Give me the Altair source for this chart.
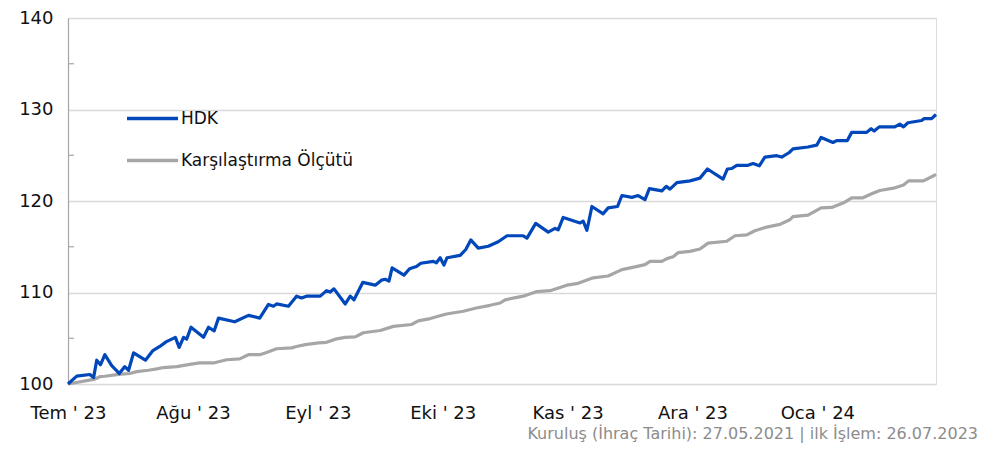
import json
import altair as alt
import pandas as pd

# ---- data (x = business-day index from 26.07.2023) ----
series_names = ["HDK", "Karşılaştırma Ölçütü"]

hdk_day = [0, 1.4, 3.5, 4.1, 4.6, 5.2, 5.9, 7.0, 8.2, 9.1, 9.7, 10.5, 12.4, 13.6, 14.7,
           15.7, 17.2, 17.8, 18.5, 19.0, 19.7, 21.7, 22.5, 23.4, 24.1, 26.7, 28.9, 30.7,
           32.1, 32.9, 33.4, 35.3, 36.6, 37.4, 38.2, 40.4, 41.4, 42.0, 42.6, 44.4, 45.2,
           45.8, 47.2, 49.2, 50.2, 50.8, 51.4, 51.9, 53.8, 54.7, 55.8, 56.5, 58.5, 59.0,
           59.6, 60.2, 60.7, 62.8, 63.7, 64.5, 65.7, 67.3, 68.9, 70.3, 72.9, 73.5, 74.9,
           76.9, 78.0, 78.5, 79.3, 82.0, 82.5, 83.1, 83.9, 85.7, 86.5, 88.0, 88.7, 90.3,
           91.3, 92.4, 93.1, 95.1, 95.8, 96.4, 97.5, 99.6, 101.2, 102.4, 104.9, 105.6,
           106.3, 107.1, 108.9, 109.7, 110.7, 111.6, 113.5, 114.3, 115.5, 116.1, 118.5,
           119.9, 120.6, 122.5, 123.1, 124.8, 125.5, 127.9, 128.6, 129.1, 129.9, 132.4,
           133.2, 133.8, 134.5, 136.7, 137.1, 138.3, 139]
hdk_val = [100.0, 100.86, 101.04, 100.7, 102.6, 102.1, 103.2, 102.0, 101.15, 101.9, 101.5,
           103.4, 102.6, 103.65, 104.1, 104.6, 105.1, 104.0, 105.1, 104.9, 106.2, 105.1,
           106.2, 105.8, 107.2, 106.8, 107.5, 107.2, 108.7, 108.5, 108.75, 108.5, 109.6,
           109.4, 109.6, 109.6, 110.2, 110.05, 110.4, 108.75, 109.6, 109.2, 111.1, 110.8,
           111.35, 111.45, 111.25, 112.7, 111.9, 112.6, 112.85, 113.2, 113.4, 113.25, 113.8,
           113.0, 113.8, 114.05, 114.7, 115.75, 114.85, 115.05, 115.55, 116.2, 116.2, 115.95,
           117.55, 116.6, 117.0, 116.85, 118.2, 117.6, 117.8, 116.8, 119.4, 118.6, 119.25,
           119.4, 120.6, 120.4, 120.6, 120.15, 121.35, 121.1, 121.6, 121.3, 122.0, 122.2,
           122.5, 123.5, 122.4, 123.5, 123.55, 123.9, 123.9, 124.1, 123.85, 124.8, 124.95,
           124.8, 125.3, 125.7, 125.9, 126.1, 126.95, 126.4, 126.6, 126.6, 127.5, 127.5,
           127.9, 127.65, 128.1, 128.1, 128.4, 128.1, 128.55, 128.8, 129.0, 129.0, 129.45]

bm_day = [0, 4.1, 5.1, 5.9, 8.1, 9.9, 11.0, 12.9, 14.2, 15.3, 17.4, 19.5, 21.1, 23.3, 25.4,
          27.5, 28.9, 30.7, 31.8, 33.4, 35.8, 36.6, 38.0, 40.1, 41.4, 42.8, 44.4, 46.0, 47.3,
          50.0, 52.1, 55.0, 56.1, 58.0, 60.6, 63.3, 65.4, 67.6, 69.2, 70.0, 72.9, 75.1, 77.2,
          79.9, 81.7, 84.1, 86.5, 88.7, 90.8, 92.4, 93.2, 95.1, 95.9, 96.9, 97.7, 99.6, 101.2,
          102.5, 105.5, 106.8, 108.7, 110.0, 111.9, 114.0, 115.6, 116.1, 118.5, 120.6, 122.3,
          124.2, 125.5, 127.3, 128.7, 130.0, 132.2, 133.8, 134.6, 137.0, 139]
bm_val = [100.0, 100.5, 100.8, 100.85, 101.05, 101.15, 101.35, 101.5, 101.65, 101.8, 101.9,
          102.15, 102.3, 102.3, 102.65, 102.75, 103.2, 103.2, 103.45, 103.85, 103.95, 104.1,
          104.3, 104.5, 104.55, 104.9, 105.1, 105.15, 105.6, 105.85, 106.3, 106.5, 106.9,
          107.15, 107.65, 107.95, 108.3, 108.6, 108.85, 109.2, 109.6, 110.1, 110.2, 110.8,
          111.0, 111.6, 111.8, 112.5, 112.8, 113.05, 113.4, 113.4, 113.7, 113.9, 114.35,
          114.5, 114.75, 115.4, 115.6, 116.2, 116.3, 116.75, 117.15, 117.45, 117.95, 118.3,
          118.45, 119.25, 119.3, 119.8, 120.35, 120.35, 120.8, 121.15, 121.4, 121.75, 122.2,
          122.2, 122.9]

tick_days = [0, 20, 40, 60, 80, 100, 120]
month_labels = ["Tem ' 23", "Ağu ' 23", "Eyl ' 23", "Eki ' 23", "Kas ' 23", "Ara ' 23", "Oca ' 24"]
y_ticks = [100, 110, 120, 130, 140]
minor_ticks = [105, 115, 125, 135]
footnote = "Kuruluş (İhraç Tarihi): 27.05.2021 | ilk İşlem: 26.07.2023"

FONT = "DejaVu Sans"

hdk_df = pd.DataFrame({"gün": hdk_day, "değer": hdk_val, "seri": series_names[0]})
bm_df = pd.DataFrame({"gün": bm_day, "değer": bm_val, "seri": series_names[1]})
minor_df = pd.DataFrame({"değer": minor_ticks})
note_df = pd.DataFrame({"t": [footnote]})

label_expr = "[" + ",".join(json.dumps(l) for l in month_labels) + "][round(datum.value/20)]"

x_enc = alt.X(
    "gün:Q",
    scale=alt.Scale(domain=[0, 139], nice=False, zero=False),
    axis=alt.Axis(values=tick_days, labelExpr=label_expr, title=None, grid=False,
                  domain=False, ticks=False, labelFlush=False, labelOverlap=False,
                  labelFontSize=18, labelPadding=20, labelColor="#111111", labelFont=FONT),
)
y_enc = alt.Y(
    "değer:Q",
    scale=alt.Scale(domain=[100, 140], nice=False, zero=False),
    axis=alt.Axis(values=y_ticks, title=None, grid=True, gridColor="#d9d9d9", gridWidth=1.5,
                  domain=True, domainColor="#a6a6a6", domainWidth=1.2, ticks=False,
                  labelPadding=15, labelFontSize=18, labelColor="#111111", labelFont=FONT),
)
color_enc = alt.Color(
    "seri:N",
    scale=alt.Scale(domain=series_names, range=["#0047BA", "#A6A6A6"]),
    legend=alt.Legend(title=None, orient="none", legendX=57, legendY=73, direction="vertical",
                      symbolType="stroke", symbolSize=2601, symbolStrokeWidth=3.5,
                      labelFontSize=17, labelFont=FONT, labelColor="#111111",
                      labelOffset=1, rowPadding=6, labelLimit=400),
)

bm_line = alt.Chart(bm_df).mark_line(strokeWidth=3.2, strokeJoin="round").encode(
    x=x_enc, y=y_enc, color=color_enc)
hdk_line = alt.Chart(hdk_df).mark_line(strokeWidth=3.2, strokeJoin="round").encode(
    x=x_enc, y=y_enc, color=color_enc)
minor = alt.Chart(minor_df).mark_rule(color="#a6a6a6", strokeWidth=1.2).encode(
    y=alt.Y("değer:Q"), x=alt.value(0), x2=alt.value(6))
note = alt.Chart(note_df).mark_text(align="right", baseline="middle", fontSize=16,
                                    font=FONT, color="#8c8c8c").encode(
    text="t:N", x=alt.value(910), y=alt.value(416))

chart = alt.layer(minor, bm_line, hdk_line, note).properties(
    width=868, height=366,
    autosize=alt.AutoSizeParams(type="none"),
    padding={"left": 60, "top": 10, "right": 48, "bottom": 60},
).configure_view(stroke=None).configure(font=FONT)

chart.save("out.html", embed_options={"renderer": "svg", "actions": False})
